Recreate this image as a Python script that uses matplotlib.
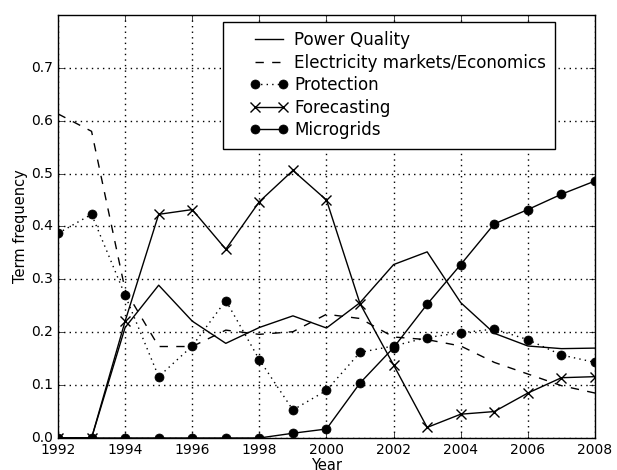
import matplotlib
matplotlib.use("Agg")
import matplotlib.pyplot as plt
import numpy as np
from matplotlib.legend_handler import HandlerLine2D

plt.style.use("classic")

years = list(range(1992, 2009))

power_quality = [0.0, 0.0, 0.209, 0.289, 0.221, 0.179, 0.209, 0.231, 0.208,
                 0.256, 0.328, 0.352, 0.256, 0.198, 0.174, 0.169, 0.170]
markets = [0.613, 0.580, 0.280, 0.173, 0.173, 0.204, 0.196, 0.201, 0.234,
           0.226, 0.191, 0.186, 0.174, 0.143, 0.121, 0.099, 0.085]
protection = [0.387, 0.423, 0.270, 0.116, 0.174, 0.260, 0.148, 0.053, 0.090,
              0.162, 0.174, 0.190, 0.199, 0.206, 0.186, 0.157, 0.143]
forecasting = [0.0, 0.0, 0.221, 0.423, 0.432, 0.357, 0.447, 0.506, 0.450,
               0.254, 0.138, 0.020, 0.045, 0.050, 0.085, 0.114, 0.116]
microgrids = [0.0, 0.0, 0.0, 0.0, 0.0, 0.0, 0.0, 0.009, 0.017,
              0.104, 0.171, 0.253, 0.328, 0.405, 0.432, 0.461, 0.486]


# old-style legend handle: short line sitting at the right of the handle box
class ShortHandler(HandlerLine2D):
    def get_xdata(self, legend, xdescent, ydescent, width, height, fontsize):
        xdata = np.linspace(-xdescent + 0.42 * width,
                            -xdescent + 0.94 * width, 2)
        return xdata, xdata


fig = plt.figure(figsize=(6.17, 4.70), dpi=100, facecolor="white")
ax = fig.add_axes([0.094, 0.0681, 0.8703, 0.900])

ax.plot(years, power_quality, "k-", lw=1, label="Power Quality")
ax.plot(years, markets, "k--", lw=1, label="Electricity markets/Economics")
ax.plot(years, protection, "k:", lw=1, marker="o", ms=6.5,
        label="Protection")
ax.plot(years, forecasting, "k-", lw=1, marker="x", ms=6.5, mew=1,
        label="Forecasting")
ax.plot(years, microgrids, "k-", lw=1, marker="o", ms=6.5,
        label="Microgrids")

ax.set_xlim(1992, 2008)
ax.set_ylim(0, 0.8)
ax.set_xticks(range(1992, 2009, 2))
ax.set_yticks([0.0, 0.1, 0.2, 0.3, 0.4, 0.5, 0.6, 0.7])
ax.ticklabel_format(useOffset=False)
ax.tick_params(labelsize=10, pad=3.5)
ax.grid(True, color="k", linestyle=":", lw=1)

ax.set_xlabel("Year", fontsize=10.5, labelpad=1)
ax.set_ylabel("Term frequency", fontsize=10.5, labelpad=2)

ax.legend(loc="upper right", numpoints=2, fontsize=12.1,
          fancybox=False, borderaxespad=0, borderpad=0.55,
          handlelength=3.2, handletextpad=0.45, labelspacing=0.27,
          bbox_to_anchor=(0.9257, 0.9835),
          handler_map={matplotlib.lines.Line2D: ShortHandler()})

fig.savefig("out.png", dpi=100, facecolor="white")
